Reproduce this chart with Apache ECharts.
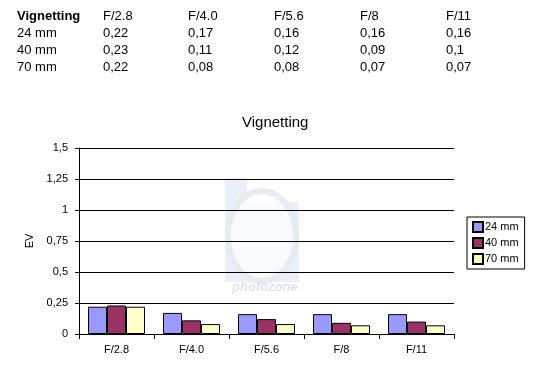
<!DOCTYPE html>
<html><head><meta charset="utf-8">
<script src="https://cdn.jsdelivr.net/npm/echarts@6/dist/echarts.min.js"></script>
<style>html,body{margin:0;padding:0;background:#fff}#c{width:541px;height:365px}</style>
</head><body><div id="c"></div>
<script>
const categories = ['F/2.8','F/4.0','F/5.6','F/8','F/11'];
const seriesNames = ['24 mm','40 mm','70 mm'];
const v24 = [0.22, 0.17, 0.16, 0.16, 0.16];
const v40 = [0.23, 0.11, 0.12, 0.09, 0.1];
const v70 = [0.22, 0.08, 0.08, 0.07, 0.07];
const valueLabels24 = ['0,22','0,17','0,16','0,16','0,16'];
const valueLabels40 = ['0,23','0,11','0,12','0,09','0,1'];
const valueLabels70 = ['0,22','0,08','0,08','0,07','0,07'];
const colors = ['#9999FF','#993366','#FFFFCC'];
const font = 'Liberation Sans, Arial, Helvetica, sans-serif';

const chart = echarts.init(document.getElementById('c'), null, {renderer:'canvas'});

const tableRows = [['Vignetting'].concat(categories), ['24 mm'].concat(valueLabels24), ['40 mm'].concat(valueLabels40), ['70 mm'].concat(valueLabels70)];
const colX = [17, 103, 188, 274, 360, 446];
const rowY = [18, 35, 52, 69];
const graphics = [];
tableRows.forEach((row, r) => row.forEach((t, c) => {
  graphics.push({type:'text', left: colX[c], top: rowY[r] - 8, silent:true,
    style:{text:t, font: (r===0 && c===0 ? 'bold ' : '') + '13px ' + font, fill:'#000'}});
}));
// faint watermark
graphics.push({type:'group', silent:true, z:-1, children:[
  {type:'rect', shape:{x:225,y:178,width:22,height:104}, style:{fill:'rgba(120,150,200,0.15)'}},
  {type:'rect', shape:{x:247,y:202,width:52,height:80}, style:{fill:'rgba(120,150,200,0.15)'}},
  {type:'ellipse', shape:{cx:262,cy:236,rx:34,ry:45}, style:{fill:'rgba(255,255,255,0.7)', stroke:'rgba(230,233,240,0.9)', lineWidth:6}},
  {type:'text', x:232, y:281, style:{text:'photozone', font:'italic bold 13px ' + font, fill:'rgba(140,160,200,0.3)'}}
]});

chart.setOption({
  animation:false,
  backgroundColor:'#fff',
  title:{text:'Vignetting', left:237, top:110,
    textStyle:{fontFamily:font, fontSize:15, fontWeight:'normal', color:'#000'}},
  graphic: graphics,
  legend:{orient:'vertical', left:467, top:217, width:61, height:50,
    borderColor:'#000', borderWidth:1, padding:[4,6,4,5], itemGap:4,
    itemWidth:10, itemHeight:10, icon:'rect',
    textStyle:{fontFamily:font, fontSize:11, color:'#000', padding:[0,0,0,-3]},
    data: seriesNames},
  grid:{left:79, right:87, top:148, bottom:31, containLabel:false},
  xAxis:{type:'category', data:categories,
    axisLine:{show:true, lineStyle:{color:'#000', width:1}},
    axisTick:{show:true, length:5, alignWithLabel:false, lineStyle:{color:'#000'}},
    axisLabel:{fontFamily:font, fontSize:11, color:'#000', margin:10}},
  yAxis:{type:'value', min:0, max:1.5, interval:0.25,
    name:'EV', nameLocation:'middle', nameGap:44, nameRotate:90,
    nameTextStyle:{fontFamily:font, fontSize:11, color:'#000'},
    axisLine:{show:true, lineStyle:{color:'#000'}},
    axisTick:{show:true, length:4, lineStyle:{color:'#000'}},
    splitLine:{show:true, lineStyle:{color:'#000', width:1}},
    axisLabel:{fontFamily:font, fontSize:11, color:'#000', margin:11,
      formatter: v => String(v).replace('.', ',')}},
  series:[v24, v40, v70].map((d, i) => ({
    name: seriesNames[i], type:'bar', data:d, barGap:'0%', barCategoryGap:'24%',
    itemStyle:{color:colors[i], borderColor:'#000', borderWidth:1}
  }))
});
</script></body></html>
